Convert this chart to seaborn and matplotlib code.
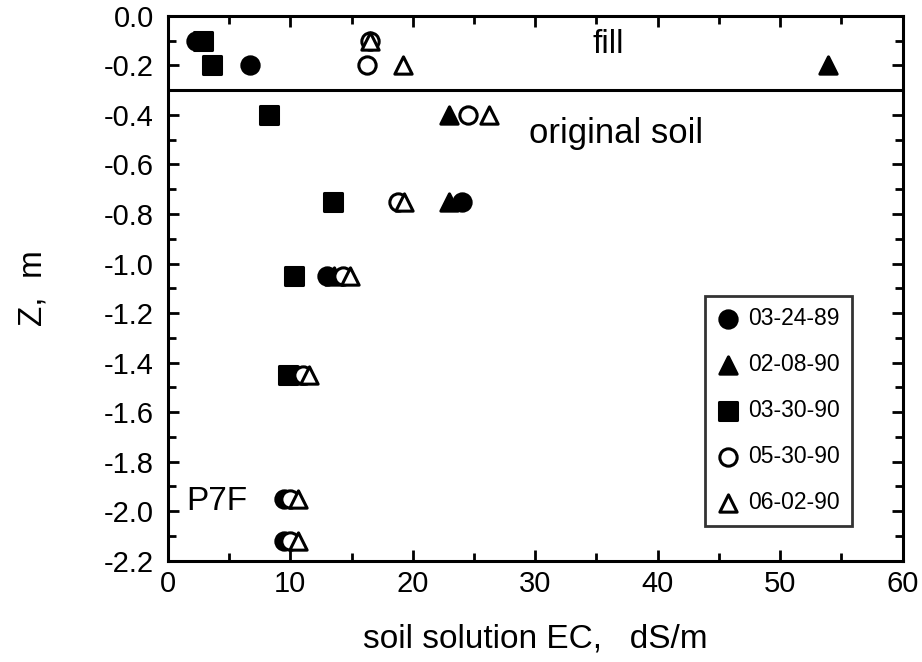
import numpy as np
import pandas as pd
import matplotlib
matplotlib.use('Agg')
import matplotlib.pyplot as plt
import seaborn as sns
from matplotlib.ticker import MultipleLocator

# soil solution EC (dS/m) at depth Z (m), profile P7F
dates = ['03-24-89', '02-08-90', '03-30-90', '05-30-90', '06-02-90']

z_0324 = [-0.1, -0.2, -0.75, -1.05, -1.45, -1.95, -2.12]
ec_0324 = [2.3, 6.7, 24.0, 13.0, 10.2, 9.5, 9.5]

z_0208 = [-0.2, -0.4, -0.75, -1.05, -1.45]
ec_0208 = [53.9, 23.0, 23.0, 13.6, 10.6]

z_0330 = [-0.1, -0.2, -0.4, -0.75, -1.05, -1.45]
ec_0330 = [2.9, 3.6, 8.3, 13.5, 10.3, 9.8]

z_0530 = [-0.1, -0.2, -0.4, -0.75, -1.05, -1.45, -1.95, -2.12]
ec_0530 = [16.5, 16.3, 24.5, 18.8, 14.3, 11.0, 10.0, 10.0]

z_0602 = [-0.1, -0.2, -0.4, -0.75, -1.05, -1.45, -1.95, -2.12]
ec_0602 = [16.5, 19.2, 26.2, 19.3, 14.9, 11.5, 10.6, 10.6]

fill_depth = -0.3
x_ticks = [0, 10, 20, 30, 40, 50, 60]
y_ticks = [0.0, -0.2, -0.4, -0.6, -0.8, -1.0, -1.2, -1.4, -1.6, -1.8, -2.0, -2.2]
y_ticklabels = ['0.0', '-0.2', '-0.4', '-0.6', '-0.8', '-1.0', '-1.2',
                '-1.4', '-1.6', '-1.8', '-2.0', '-2.2']

series = [
    (dates[0], ec_0324, z_0324, 'o', 'black'),
    (dates[1], ec_0208, z_0208, '^', 'black'),
    (dates[2], ec_0330, z_0330, 's', 'black'),
    (dates[3], ec_0530, z_0530, 'o', 'white'),
    (dates[4], ec_0602, z_0602, '^', 'white'),
]

sns.set_style('ticks', {'text.color': 'black', 'axes.labelcolor': 'black',
                        'xtick.color': 'black', 'ytick.color': 'black',
                        'axes.edgecolor': 'black'})
plt.rcParams['font.family'] = ['Liberation Sans', 'DejaVu Sans']
plt.rcParams['axes.unicode_minus'] = False

fig = plt.figure(figsize=(9.22, 6.62), dpi=100)
ax = fig.add_axes([0.182, 0.153, 0.797, 0.823])

for label, ec, z, marker, face in series:
    df = pd.DataFrame({'ec': ec, 'z': z})
    sns.scatterplot(data=df, x='ec', y='z', ax=ax, marker=marker, s=155,
                    facecolor=face, edgecolor='black', linewidth=2.2,
                    label=label, zorder=3)

ax.axhline(fill_depth, color='black', lw=2.2)

ax.set_xlim(0, 60)
ax.set_ylim(-2.2, 0.0)
ax.set_xticks(x_ticks)
ax.set_yticks(y_ticks)
ax.set_yticklabels(y_ticklabels)
ax.xaxis.set_minor_locator(MultipleLocator(5))
ax.yaxis.set_minor_locator(MultipleLocator(0.1))
ax.tick_params(which='both', direction='in', top=True, right=True,
               width=2, labelsize=21, pad=10)
ax.tick_params(which='major', length=8)
ax.tick_params(which='minor', length=6)
ax.tick_params(axis='x', pad=7)
for sp in ax.spines.values():
    sp.set_linewidth(2.2)

ax.set_xlabel('soil solution EC,   dS/m', fontsize=24, labelpad=18)
ax.set_ylabel('Z,  m', fontsize=24, labelpad=40)

ax.text(36.0, -0.115, 'fill', fontsize=24, ha='center', va='center')
ax.text(29.5, -0.475, 'original soil', fontsize=25, ha='left', va='center')
ax.text(1.5, -1.96, 'P7F', fontsize=24, ha='left', va='center')

leg = ax.legend(loc='upper left', bbox_to_anchor=(0.731, 0.486),
                fontsize=16.5, frameon=True, fancybox=False, labelspacing=1.0,
                handletextpad=0.4, borderpad=0.5, handlelength=1.0,
                borderaxespad=0, markerscale=1.0)
leg.get_frame().set_edgecolor('black')
leg.get_frame().set_linewidth(2)

fig.savefig('out.png', dpi=100)
